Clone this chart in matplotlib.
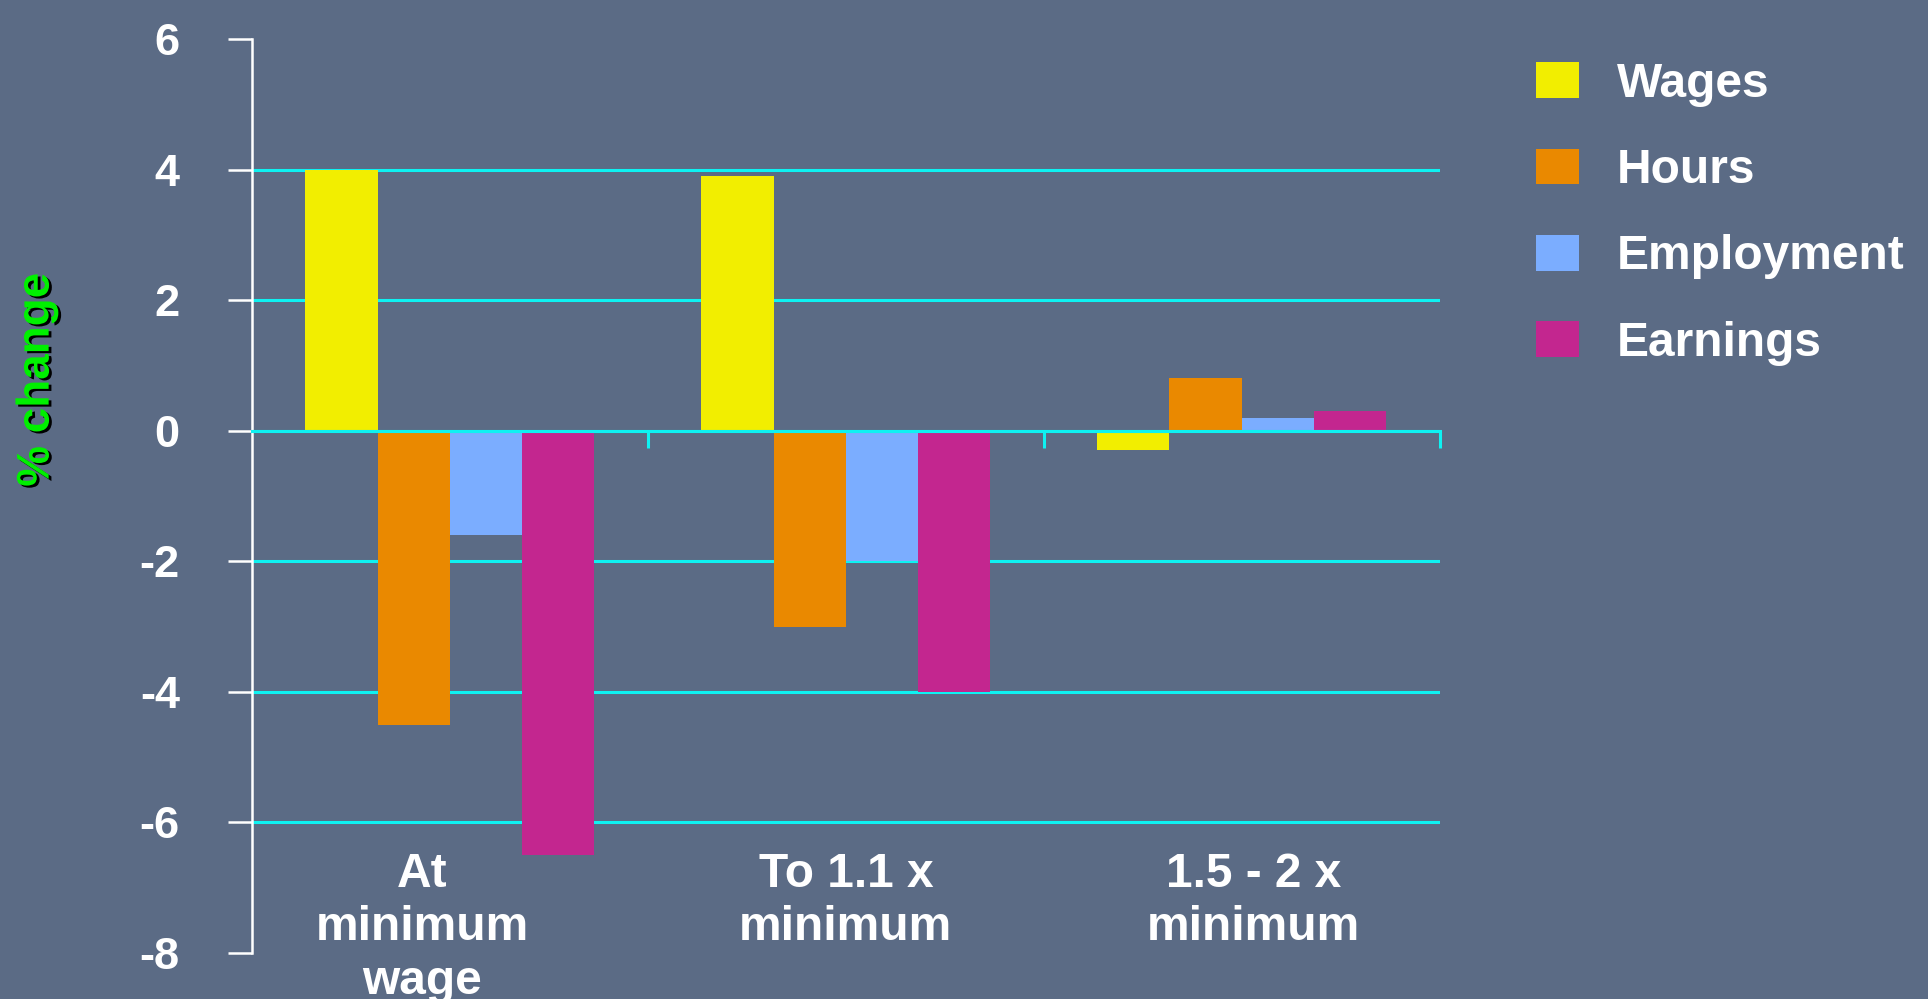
import numpy as np
import matplotlib.pyplot as plt
import matplotlib.patheffects as pe

categories = ['At\nminimum\nwage', 'To 1.1 x\nminimum', '1.5 - 2 x\nminimum']
series = ['Wages', 'Hours', 'Employment', 'Earnings']
wages = [4.0, 3.9, -0.3]
hours = [-4.5, -3.0, 0.8]
employment = [-1.6, -2.0, 0.2]
earnings = [-6.5, -4.0, 0.3]
yticks = [-8, -6, -4, -2, 0, 2, 4, 6]

bg = '#5B6B85'
colors = ['#F2EE00', '#EA8900', '#7BADFF', '#C3268F']
grid_c = '#0EF2F2'

plt.rcParams['font.family'] = ['Liberation Sans', 'DejaVu Sans']
plt.rcParams['font.weight'] = 'bold'

fig = plt.figure(figsize=(19.28, 9.99), dpi=100, facecolor=bg)
ax = fig.add_axes([0.1307, 0.046, 0.616, 0.915], facecolor=bg)

x = np.arange(len(categories))
w = 0.73 / 4
for i, (vals, name) in enumerate(zip([wages, hours, employment, earnings], series)):
    ax.bar(x + (i - 1.5) * w, vals, w, color=colors[i], label=name, zorder=2)

ax.set_xlim(-0.5, len(categories) - 0.5)
ax.set_ylim(yticks[0], yticks[-1])

# grid lines, skipping the top and bottom ticks
for yv in yticks[1:-1]:
    ax.axhline(yv, color=grid_c, lw=2.2, zorder=1 if yv else 3)

for s in ['top', 'right']:
    ax.spines[s].set_visible(False)
ax.spines['left'].set_color('white')
ax.spines['left'].set_linewidth(1.8)
ax.spines['bottom'].set_position(('data', 0))
ax.spines['bottom'].set_color(grid_c)
ax.spines['bottom'].set_linewidth(2.2)
ax.spines['bottom'].set_zorder(3)

ax.set_yticks(yticks)
ax.set_yticklabels([str(v) for v in yticks])
ax.tick_params(axis='y', colors='white', length=17, width=1.8, pad=35, labelsize=32.5)
ax.set_xticks(x + 0.5)
ax.set_xticklabels([])
ax.tick_params(axis='x', colors=grid_c, length=12, width=2.2, direction='out')

label_dx = [-0.07, 0, 0.03]
for xi, lab, dx in zip(x, categories, label_dx):
    ax.text(xi + dx, -6.45, lab, ha='center', va='top', color='white',
            fontsize=34.5, fontweight='bold', linespacing=1.24)

fig.text(0.019, 0.62, '% change', rotation=90, ha='center', va='center',
         color='#00F000', fontsize=33, fontweight='bold',
         path_effects=[pe.withSimplePatchShadow(offset=(2, -1.5), shadow_rgbFace='black', alpha=1)])

leg = fig.legend(loc='upper left', bbox_to_anchor=(1536 / 1928, 1 - 62 / 999),
                 frameon=False, fontsize=34.5, labelspacing=0.86,
                 handlelength=0.9, handleheight=0.77, handletextpad=0.79,
                 borderpad=0, borderaxespad=0)
for t in leg.get_texts():
    t.set_color('white')

fig.savefig('out.png', dpi=100, facecolor=bg)
